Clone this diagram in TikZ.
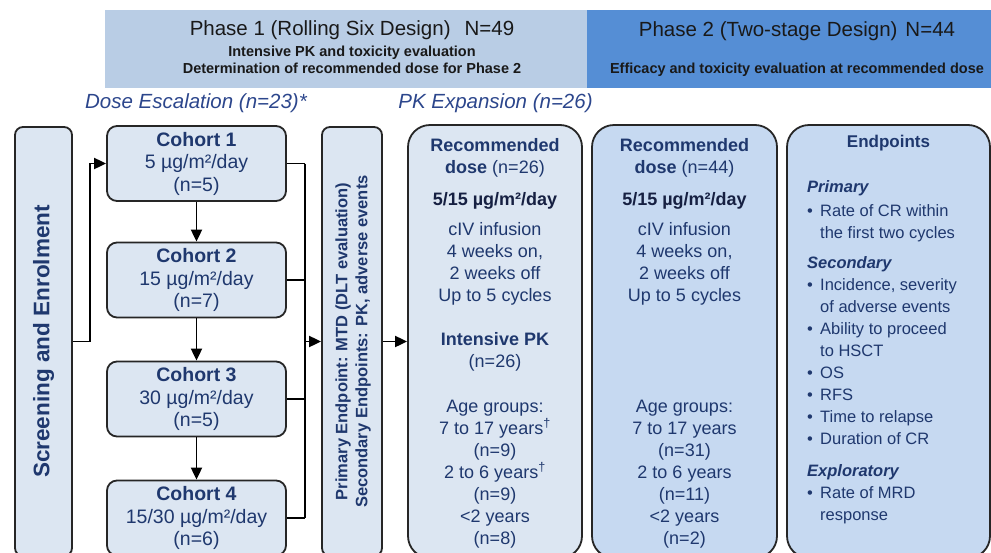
\documentclass[tikz,border=0pt]{standalone}
\usepackage{fontspec}
\setmainfont{Liberation Sans}
\usetikzlibrary{arrows.meta,positioning}

\definecolor{hdrone}{HTML}{B9CDE5}
\definecolor{hdrtwo}{HTML}{558ED5}
\definecolor{lightfill}{HTML}{DCE6F2}
\definecolor{midfill}{HTML}{C6D9F1}
\definecolor{navy}{RGB}{31,56,110}
\definecolor{darknavy}{RGB}{22,32,66}
\definecolor{labblue}{RGB}{44,70,140}

\newcommand{\fsz}[2]{\fontsize{#1}{#2}\selectfont}
\newcommand{\bul}{\makebox[13pt][l]{•}}
\newcommand{\ind}{\makebox[13pt]{}}

\begin{document}
\begin{tikzpicture}[x=1pt,y=-1pt,>={Triangle[length=12pt,width=11pt]},
  box/.style={draw=black!85, line width=1.8pt, fill=lightfill, text=navy, align=center, inner sep=0pt},
  cohort/.style={box, rounded corners=10pt, minimum width=179pt, minimum height=75pt, font=\fsz{19.5}{22.5}},
  tallbox/.style={box, rounded corners=8pt, minimum height=429pt},
  bigbox/.style={box, rounded corners=22pt, minimum height=433pt},
  bodytext/.style={text=navy, align=center, inner sep=0pt, anchor=north},
  link/.style={line width=1.9pt, black}]
  \useasboundingbox (0,0) rectangle (991,552);
  \clip (0,0) rectangle (991,552);

  % header bands
  \node[fill=hdrone, minimum width=482pt, minimum height=78pt, inner sep=0pt] (ph1) at (346,49) {};
  \node[fill=hdrtwo, minimum width=404pt, minimum height=78pt, inner sep=0pt] (ph2) at (789,49) {};
  \node[font=\fsz{20.5}{22}, text=black!90, inner sep=0pt] (ph1title) at (352,30) {Phase 1 (Rolling Six Design)\hspace{14pt}N=49};
  \node[font=\fsz{14.5}{17}\bfseries, text=black!90, align=center, inner sep=0pt] (ph1sub) at (352,59.5)
    {Intensive PK and toxicity evaluation\\Determination of recommended dose for Phase 2};
  \node[font=\fsz{20.5}{22}, text=black!90, inner sep=0pt] (ph2title) at (797,31) {Phase 2 (Two-stage Design)\hspace{8pt}N=44};
  \node[font=\fsz{14.5}{17}\bfseries, text=black!90, inner sep=0pt] (ph2sub) at (797,70)
    {Efficacy and toxicity evaluation at recommended dose};

  % section labels
  \node[font=\fsz{20.5}{22}\itshape, text=labblue, inner sep=0pt] (esclab) at (196,103) {Dose Escalation (n=23)*};
  \node[font=\fsz{20.5}{22}\itshape, text=labblue, inner sep=0pt] (pklab) at (495.5,103) {PK Expansion (n=26)};

  % screening
  \node[tallbox, minimum width=57pt] (scr) at (43.5,341.5) {};
  \node[rotate=90, font=\fsz{22.5}{24}\bfseries, text=navy, inner sep=0pt] (scrtxt) at (scr.center) {Screening and Enrolment};

  % cohorts
  \node[cohort] (c1) at (196.5,163.5) {\textbf{Cohort 1}\\5 µg/m²/day\\(n=5)};
  \node[cohort] (c2) at (196.5,280) {\textbf{Cohort 2}\\15 µg/m²/day\\(n=7)};
  \node[cohort] (c3) at (196.5,399) {\textbf{Cohort 3}\\30 µg/m²/day\\(n=5)};
  \node[cohort] (c4) at (196.5,518) {\textbf{Cohort 4}\\15/30 µg/m²/day\\(n=6)};

  % MTD
  \node[tallbox, minimum width=60pt] (mtd) at (352,341.5) {};
  \node[rotate=90, font=\fsz{16.5}{20}\bfseries, text=navy, align=center, inner sep=0pt] (mtdtxt) at ([xshift=1pt]mtd.center)
    {Primary Endpoint: MTD (DLT evaluation)\\Secondary Endpoints: PK, adverse events};

  % PK expansion
  \node[bigbox, minimum width=174pt] (pk) at (495,341.5) {};
  \node[bodytext, font=\fsz{18}{22}] (pktxt) at (495,138)
    {\textbf{Recommended}\\
     \textbf{dose} (n=26)\\[10pt]
     \textcolor{darknavy}{\textbf{5/15 µg/m²/day}}\\[8pt]
     cIV infusion\\
     4 weeks on,\\
     2 weeks off\\
     Up to 5 cycles\\[22pt]
     \textbf{Intensive PK}\\
     (n=26)\\[23pt]
     Age groups:\\
     7 to 17 years\textsuperscript{†}\\
     (n=9)\\
     2 to 6 years\textsuperscript{†}\\
     (n=9)\\
     <2 years\\
     (n=8)};

  % phase 2
  \node[bigbox, fill=midfill, minimum width=185pt] (p2) at (684.5,341.5) {};
  \node[bodytext, font=\fsz{18}{22}] (p2txt) at (684.5,138)
    {\textbf{Recommended}\\
     \textbf{dose} (n=44)\\[10pt]
     \textcolor{darknavy}{\textbf{5/15 µg/m²/day}}\\[8pt]
     cIV infusion\\
     4 weeks on,\\
     2 weeks off\\
     Up to 5 cycles\\[89pt]
     Age groups:\\
     7 to 17 years\\
     (n=31)\\
     2 to 6 years\\
     (n=11)\\
     <2 years\\
     (n=2)};

  % endpoints
  \node[bigbox, fill=midfill, minimum width=203pt] (ep) at (888.5,341.5) {};
  \node[font=\fsz{17}{22}\bfseries, text=navy, inner sep=0pt] (eptitle) at (888.5,143) {Endpoints};
  \node[bodytext, anchor=north west, align=left, font=\fsz{16.5}{22}] (eplist) at (807,180)
    {\textbf{\textit{Primary}}\\[2pt]
     \bul Rate of CR within\\
     \ind the first two cycles\\[8pt]
     \textbf{\textit{Secondary}}\\
     \bul Incidence, severity\\
     \ind of adverse events\\
     \bul Ability to proceed\\
     \ind to HSCT\\
     \bul OS\\
     \bul RFS\\
     \bul Time to relapse\\
     \bul Duration of CR\\[10pt]
     \textbf{\textit{Exploratory}}\\
     \bul Rate of MRD\\
     \ind response};

  % connectors
  \draw[link,->] (scr.east) -- ++(17,0) |- (c1.west);
  \foreach \a/\b in {c1/c2,c2/c3,c3/c4}
    \draw[link,->] (\a) -- (\b);
  \draw[link] (c1.east) -- ++(18,0) coordinate (bustop);
  \draw[link] (c4.east) -- ++(18,0) coordinate (busbot);
  \draw[link] (bustop) -- (busbot);
  \foreach \c in {c2,c3}
    \draw[link] (\c.east) -- (\c.east -| bustop);
  \draw[link,->] (bustop |- mtd.west) -- (mtd.west);
  \draw[link,->] (mtd.east) -- (pk.west);
\end{tikzpicture}
\end{document}
